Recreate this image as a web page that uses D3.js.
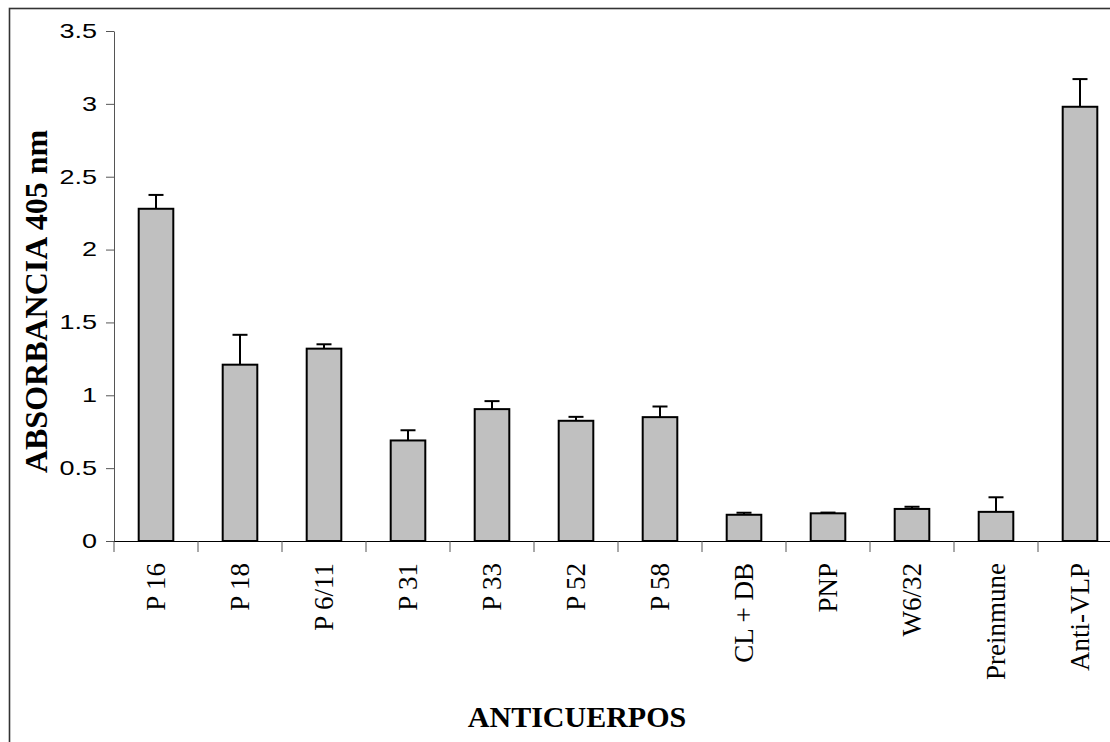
<!DOCTYPE html>
<html>
<head>
<meta charset="utf-8">
<script src="https://cdn.jsdelivr.net/npm/d3@7"></script>
<style>
  body { margin: 0; background: #fff; }
  svg { display: block; }
</style>
</head>
<body>
<div id="chart"></div>
<script>
// antibodies and mean absorbance (405 nm), upper error
const names = ['P 16', 'P 18', 'P 6/11', 'P 31', 'P 33', 'P 52', 'P 58', 'CL + DB', 'PNP', 'W6/32', 'Preinmune', 'Anti-VLP'];
const means = [2.28, 1.21, 1.32, 0.69, 0.905, 0.825, 0.85, 0.18, 0.19, 0.22, 0.20, 2.98];
const errs  = [0.095, 0.205, 0.03, 0.07, 0.055, 0.027, 0.073, 0.014, 0.005, 0.015, 0.10, 0.19];
const yTicks = [0, 0.5, 1, 1.5, 2, 2.5, 3, 3.5];

const W = 1110, H = 742;
const x0 = 114, y0 = 541, yTop = 31, step = 84;

const svg = d3.select('#chart').append('svg').attr('width', W).attr('height', H);

// chart frame (runs off the right and bottom of the picture)
svg.append('rect').attr('x', 9.5).attr('y', 8.5).attr('width', W + 20).attr('height', H + 20)
  .attr('fill', 'none').attr('stroke', '#333').attr('stroke-width', 1.6);

const x = d3.scaleBand().domain(names).range([x0, x0 + names.length * step])
  .paddingInner(0.588).paddingOuter(0.294);
const y = d3.scaleLinear().domain([0, 3.5]).range([y0, yTop]);

// y axis
const ya = svg.append('g').attr('transform', `translate(${x0},0)`)
  .call(d3.axisLeft(y).tickValues(yTicks).tickFormat(d3.format('~g')).tickSize(8).tickSizeOuter(0));
ya.select('.domain').attr('stroke', '#555');
ya.selectAll('.tick line').attr('stroke', '#555');
ya.selectAll('.tick text').attr('x', -12.5).attr('transform', 'scale(1.35,1)')
  .attr('font-family', 'Liberation Sans, Arial, sans-serif').attr('font-size', 20).attr('fill', '#000');

// x axis line + category boundary ticks
svg.append('line').attr('x1', x0).attr('x2', W + 20).attr('y1', y0 + 0.5).attr('y2', y0 + 0.5)
  .attr('stroke', '#000').attr('stroke-width', 1.2);
svg.append('g').selectAll('line').data(d3.range(names.length + 1)).join('line')
  .attr('x1', i => x0 + i * x.step()).attr('x2', i => x0 + i * x.step())
  .attr('y1', y0).attr('y2', y0 + 11).attr('stroke', '#555');

// category labels, rotated
svg.append('g').selectAll('text').data(names).join('text')
  .attr('transform', d => `translate(${x(d) + x.bandwidth() / 2},${y0 + 22}) rotate(-90)`)
  .attr('text-anchor', 'end').attr('dy', '0.32em')
  .attr('font-family', 'Liberation Serif, Times New Roman, serif').attr('font-size', 27)
  .text(d => d);

// bars
const data = names.map((n, i) => ({ n, v: means[i], e: errs[i] }));
svg.append('g').selectAll('rect').data(data).join('rect')
  .attr('x', d => x(d.n)).attr('width', x.bandwidth())
  .attr('y', d => y(d.v)).attr('height', d => y(0) - y(d.v))
  .attr('fill', '#c0c0c0').attr('stroke', '#000').attr('stroke-width', 2);

// error bars (upper only)
const eb = svg.append('g').attr('stroke', '#000').attr('stroke-width', 2);
eb.selectAll('line.v').data(data).join('line').attr('class', 'v')
  .attr('x1', d => x(d.n) + x.bandwidth() / 2).attr('x2', d => x(d.n) + x.bandwidth() / 2)
  .attr('y1', d => y(d.v)).attr('y2', d => y(d.v + d.e));
eb.selectAll('line.c').data(data).join('line').attr('class', 'c')
  .attr('x1', d => x(d.n) + x.bandwidth() / 2 - 7.5).attr('x2', d => x(d.n) + x.bandwidth() / 2 + 7.5)
  .attr('y1', d => y(d.v + d.e)).attr('y2', d => y(d.v + d.e));

// axis titles
svg.append('text').attr('transform', `translate(47,${(130 + 473) / 2}) rotate(-90)`)
  .attr('text-anchor', 'middle')
  .attr('font-family', 'Liberation Serif, Times New Roman, serif').attr('font-size', 32).attr('font-weight', 'bold')
  .text('ABSORBANCIA 405 nm');
svg.append('text').attr('x', 577).attr('y', 727).attr('text-anchor', 'middle')
  .attr('font-family', 'Liberation Serif, Times New Roman, serif').attr('font-size', 30).attr('font-weight', 'bold')
  .text('ANTICUERPOS');
</script>
</body>
</html>
